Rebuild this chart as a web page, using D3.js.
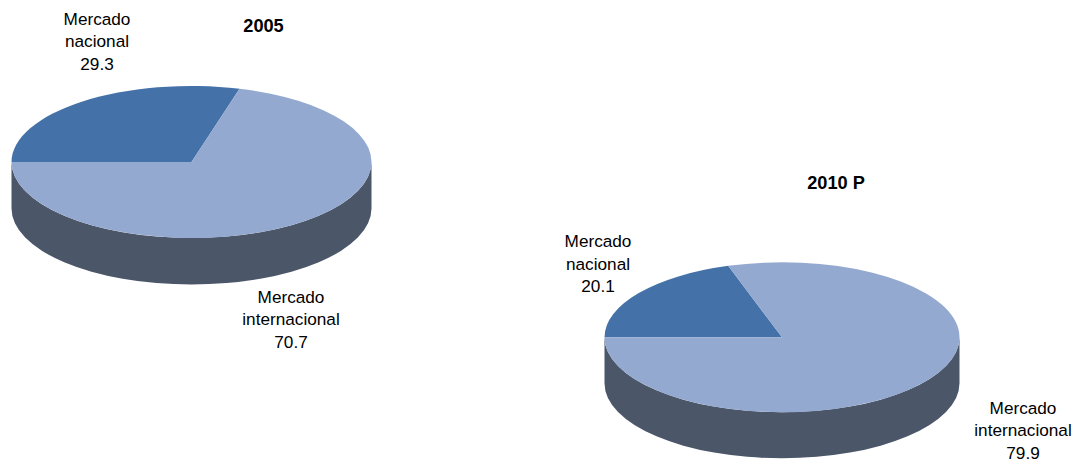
<!DOCTYPE html>
<html><head><meta charset="utf-8">
<script src="https://cdnjs.cloudflare.com/ajax/libs/d3/7.8.5/d3.min.js"></script>
<style>html,body{margin:0;padding:0;background:#fff}svg{display:block}text{font-family:"Liberation Sans",Arial,sans-serif;fill:#000}</style>
</head><body><svg id="c" width="1074" height="460"></svg>
<script>
const categories = ["Mercado nacional", "Mercado internacional"];
const years = ["2005", "2010 P"];
const values2005 = [29.3, 70.7];
const values2010 = [20.1, 79.9];
const colors = ["#4472a8", "#94a9d0"];
const sideColor = "#4b5669";
const charts = [
  {title: years[0], values: values2005, cx: 191.5, cy: 162, rx: 180, ry: 76, depth: 46.5, tx: 263.5, ty: 32,
   labels: [{x: 97, y: 24.5}, {x: 291, y: 302.5}]},
  {title: years[1], values: values2010, cx: 782, cy: 337.3, rx: 177.5, ry: 75, depth: 46, tx: 836, ty: 189,
   labels: [{x: 598, y: 247}, {x: 1023, y: 413.5}]}
];
const svg = d3.select("#c");
const pie = d3.pie().sort(null).startAngle(-Math.PI/2).endAngle(1.5*Math.PI);
const arc = d3.arc().innerRadius(0).outerRadius(1);
charts.forEach(ch => {
  const g = svg.append("g").attr("transform", `translate(${ch.cx},${ch.cy})`);
  g.append("path").attr("fill", sideColor)
    .attr("d", `M${-ch.rx},0 L${-ch.rx},${ch.depth} A${ch.rx},${ch.ry} 0 0 0 ${ch.rx},${ch.depth} L${ch.rx},0 A${ch.rx},${ch.ry} 0 0 1 ${-ch.rx},0 Z`);
  const top = g.append("g").attr("transform", `scale(${ch.rx},${ch.ry})`);
  top.selectAll("path").data(pie(ch.values)).join("path")
    .attr("d", arc).attr("fill", (d,i) => colors[i]);
  svg.append("text").attr("x", ch.tx).attr("y", ch.ty).attr("text-anchor", "middle")
    .attr("font-weight", "bold").attr("font-size", 18.2).text(ch.title);
  ch.labels.forEach((p,i) => {
    const words = categories[i].split(" ").concat(ch.values[i].toFixed(1));
    const t = svg.append("text").attr("text-anchor", "middle").attr("font-size", 17.2);
    words.forEach((w,k) => t.append("tspan").attr("x", p.x).attr("y", p.y + k*22.5).text(w));
  });
});
</script></body></html>
